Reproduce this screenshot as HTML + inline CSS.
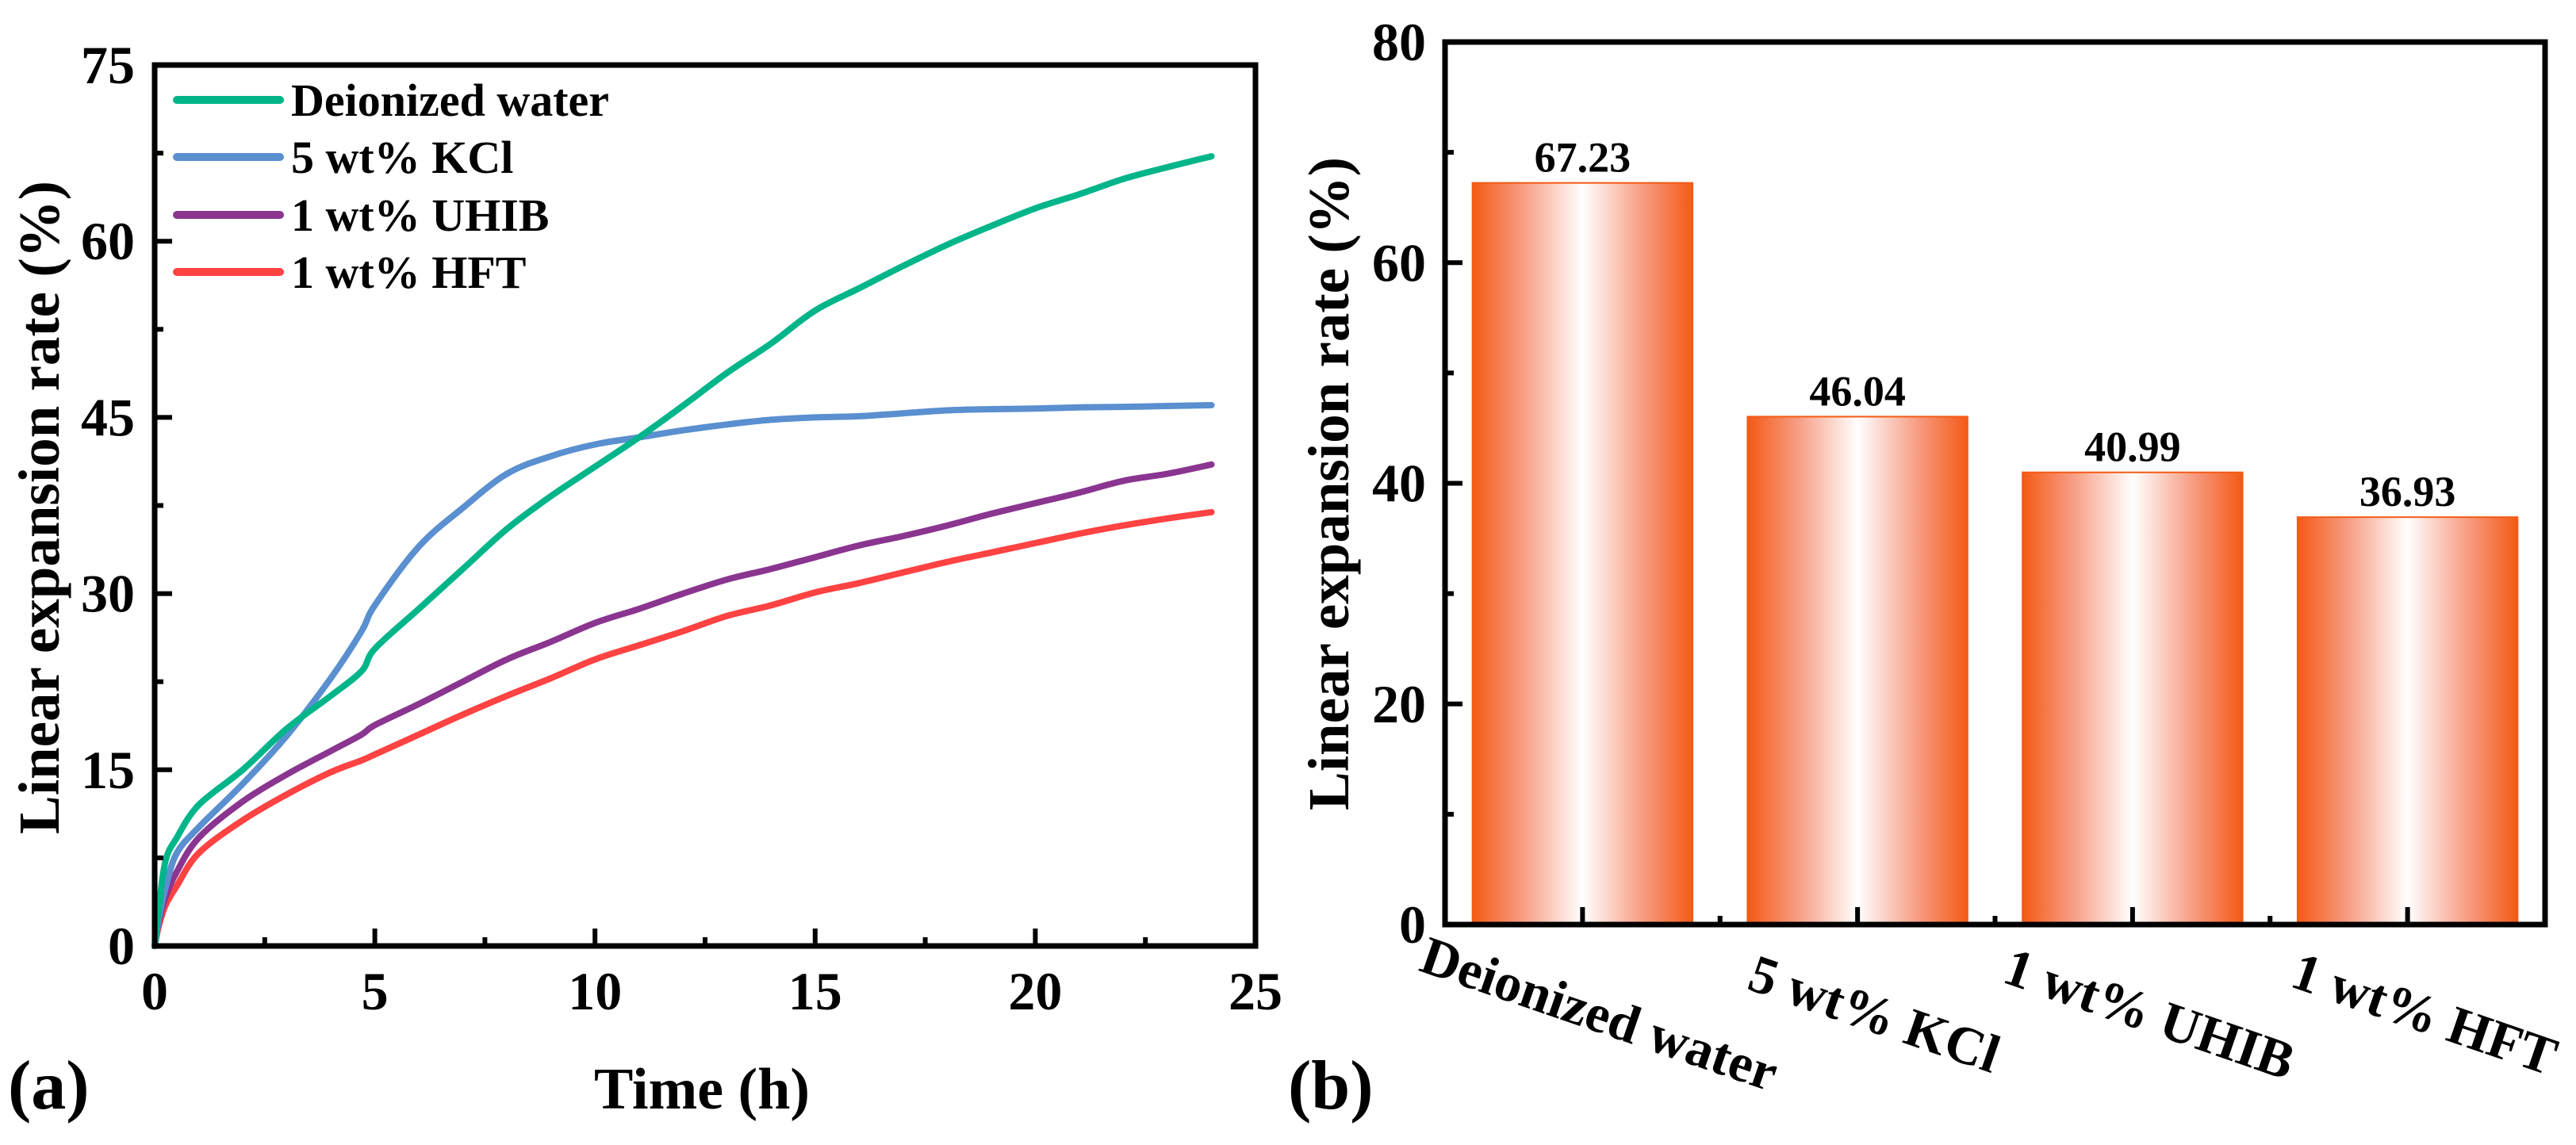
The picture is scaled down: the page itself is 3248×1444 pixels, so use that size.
<!DOCTYPE html>
<html><head><meta charset="utf-8"><style>
html,body{margin:0;padding:0;background:#fff;}
svg{display:block;}
text{font-family:"Liberation Serif",serif;font-weight:bold;fill:#000;}
</style></head><body>
<svg id="fig" width="3248" height="1444" viewBox="0 0 3248 1444" xmlns="http://www.w3.org/2000/svg">
<defs>
<linearGradient id="barGrad" x1="0" x2="1" y1="0" y2="0">
<stop offset="0" stop-color="#f45a14"/>
<stop offset="0.22" stop-color="#f79a80"/>
<stop offset="0.5" stop-color="#ffffff"/>
<stop offset="0.78" stop-color="#f79a80"/>
<stop offset="1" stop-color="#f45a14"/>
</linearGradient>
</defs>
<g id="panelA"></g>
<g id="panelB"></g>
</svg>
<script>
// ---- Panel (a) data ----
const times = [0,0.1,0.25,0.5,1,2,3,4,4.7,5,6,7,8,9,10,11,12,13,14,15,16,17,18,19,20,21,22,23,24];
const seriesNames = ["Deionized water","5 wt% KCl","1 wt% UHIB","1 wt% HFT"];
const waterVals = [0,3.5,7.3,9.2,12,15,18.5,21.3,23.4,25.3,28.7,32.1,35.5,38.3,40.8,43.3,46,48.8,51.3,54.1,56,57.9,59.7,61.3,62.8,64,65.3,66.3,67.23];
const kclVals = [0,2.5,5,7.9,10.1,13.8,17.9,22.8,26.8,29,34,37.3,40.2,41.7,42.7,43.3,43.9,44.4,44.8,45,45.1,45.35,45.6,45.7,45.75,45.85,45.9,45.97,46.04];
const uhibVals = [0,2.2,4.2,6.3,9.2,12.3,14.6,16.6,18,18.8,20.6,22.5,24.4,25.9,27.5,28.7,30,31.2,32.1,33.1,34.1,34.9,35.8,36.8,37.7,38.6,39.6,40.2,40.99];
const hftVals = [0,1.8,3.5,5.1,7.9,10.7,12.9,14.8,15.8,16.3,18,19.7,21.3,22.8,24.4,25.6,26.8,28.1,29,30.1,30.9,31.8,32.7,33.5,34.3,35.1,35.8,36.4,36.93];
const xTicksA = [0,5,10,15,20,25];
const yTicksA = [0,15,30,45,60,75];
// ---- Panel (b) data ----
const categories = ["Deionized water","5 wt% KCl","1 wt% UHIB","1 wt% HFT"];
const barVals = [67.23,46.04,40.99,36.93];
const barLabels = ["67.23","46.04","40.99","36.93"];
const yTicksB = [0,20,40,60,80];

const NS="http://www.w3.org/2000/svg";
function mk(parent,tag,attrs,txt){const e=document.createElementNS(NS,tag);for(const k in attrs)e.setAttribute(k,attrs[k]);if(txt!==undefined)e.textContent=txt;parent.appendChild(e);return e;}
function smoothPath(pts){
  let d='M'+pts[0][0].toFixed(1)+','+pts[0][1].toFixed(1);
  for(let i=0;i<pts.length-1;i++){
    const p0=pts[Math.max(0,i-1)],p1=pts[i],p2=pts[i+1],p3=pts[Math.min(pts.length-1,i+2)];
    const c1x=p1[0]+(p2[0]-p0[0])/6,c1y=p1[1]+(p2[1]-p0[1])/6;
    const c2x=p2[0]-(p3[0]-p1[0])/6,c2y=p2[1]-(p3[1]-p1[1])/6;
    d+=' C'+c1x.toFixed(1)+','+c1y.toFixed(1)+' '+c2x.toFixed(1)+','+c2y.toFixed(1)+' '+p2[0].toFixed(1)+','+p2[1].toFixed(1);
  }
  return d;
}

// ===== Panel A =====
const A=document.getElementById('panelA');
const ax={l:195,r:1583,t:82,b:1193};
const xA=v=>ax.l+(v/25)*(ax.r-ax.l);
const yA=v=>ax.b-(v/75)*(ax.b-ax.t);
const colors=["#00b58a","#5a8fd0","#8a3590","#ff4242"];
const allSeries=[waterVals,kclVals,uhibVals,hftVals];
[3,2,1,0].forEach(i=>{
  const pts=times.map((t,j)=>[xA(t),yA(allSeries[i][j])]);
  const p=mk(A,'path',{d:smoothPath(pts),fill:'none',stroke:colors[i],'stroke-width':8,'stroke-linejoin':'round','stroke-linecap':'round'});
  
  
});
const boxA=mk(A,'rect',{x:ax.l,y:ax.t,width:ax.r-ax.l,height:ax.b-ax.t,fill:'none',stroke:'#000','stroke-width':7});


for(let v=0;v<=25;v+=2.5){
  const major=(v%5===0);
  const tk=mk(A,'line',{x1:xA(v),x2:xA(v),y1:ax.b,y2:ax.b-(major?22:11),stroke:'#000','stroke-width':6});
  
  
}
xTicksA.forEach(v=>{
  const t=mk(A,'text',{x:xA(v),y:1273,'font-size':68,'text-anchor':'middle'},String(v));
  
  
});
for(let v=0;v<=75;v+=7.5){
  const major=(v%15===0);
  const tk=mk(A,'line',{x1:ax.l,x2:ax.l+(major?22:11),y1:yA(v),y2:yA(v),stroke:'#000','stroke-width':6});
  
  
}
yTicksA.forEach(v=>{
  const t=mk(A,'text',{x:170,y:yA(v)+23,'font-size':68,'text-anchor':'end'},String(v));
  
  
});
let tt=mk(A,'text',{x:885,y:1398,'font-size':74,'text-anchor':'middle'},'Time (h)');


tt=mk(A,'text',{x:0,y:0,'font-size':73,'text-anchor':'middle',transform:'translate(74,640) rotate(-90)'},'Linear expansion rate (%)');


tt=mk(A,'text',{x:10,y:1398,'font-size':88},'(a)');


const legY=[126,198,271,343];
seriesNames.forEach((n,i)=>{
  const g=mk(A,'g',{});
  
  
  mk(g,'line',{x1:223,x2:353,y1:legY[i],y2:legY[i],stroke:colors[i],'stroke-width':10,'stroke-linecap':'round'});
  mk(g,'text',{x:367,y:legY[i]+20,'font-size':58},n);
});

// ===== Panel B =====
const B=document.getElementById('panelB');
const bx={l:1822,r:3209,t:53,b:1166};
const slot=(bx.r-bx.l)/categories.length;
const xB=i=>bx.l+slot*(i+0.5);
const yB=v=>bx.b-(v/80)*(bx.b-bx.t);
const bw=slot*0.8;
barVals.forEach((v,i)=>{
  const r=mk(B,'rect',{x:xB(i)-bw/2,y:yB(v),width:bw,height:bx.b-yB(v),fill:'url(#barGrad)',stroke:'#f45a14','stroke-width':2});
  
  
  const t=mk(B,'text',{x:xB(i),y:yB(v)-14,'font-size':54,'text-anchor':'middle'},barLabels[i]);
  
  
});
const boxB=mk(B,'rect',{x:bx.l,y:bx.t,width:bx.r-bx.l,height:bx.b-bx.t,fill:'none',stroke:'#000','stroke-width':7});


for(let v=0;v<=80;v+=10){
  const major=(v%20===0);
  const tk=mk(B,'line',{x1:bx.l,x2:bx.l+(major?22:11),y1:yB(v),y2:yB(v),stroke:'#000','stroke-width':6});
  
  
}
yTicksB.forEach(v=>{
  const t=mk(B,'text',{x:1798,y:yB(v)+23,'font-size':68,'text-anchor':'end'},String(v));
  
  
});
categories.forEach((c,i)=>{
  const tk=mk(B,'line',{x1:xB(i),x2:xB(i),y1:bx.b,y2:bx.b-22,stroke:'#000','stroke-width':6});
  
  
  if(i<categories.length-1){
    const m=mk(B,'line',{x1:bx.l+slot*(i+1),x2:bx.l+slot*(i+1),y1:bx.b,y2:bx.b-11,stroke:'#000','stroke-width':6});
    
    
  }
  const t=mk(B,'text',{x:0,y:0,'font-size':68,'text-anchor':'middle',transform:'translate('+(xB(i)+14)+',1300) rotate(19)'},c);
  
  
});
tt=mk(B,'text',{x:0,y:0,'font-size':73,'text-anchor':'middle',transform:'translate(1700,610) rotate(-90)'},'Linear expansion rate (%)');


tt=mk(B,'text',{x:1624,y:1398,'font-size':88},'(b)');


</script>
</body></html>
